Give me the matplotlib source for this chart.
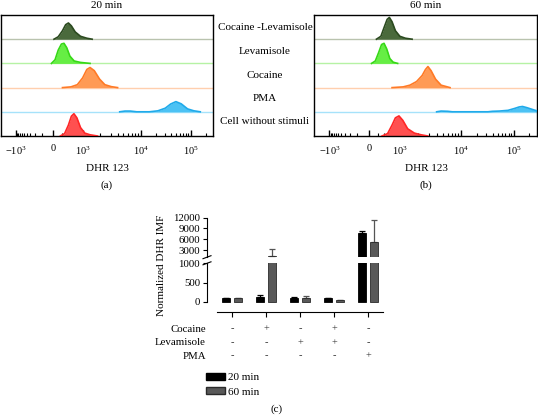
import matplotlib
matplotlib.use("Agg")
import matplotlib.pyplot as plt
import numpy as np
from matplotlib.lines import Line2D
from matplotlib.patches import Patch
from matplotlib.transforms import blended_transform_factory

plt.rcParams["font.family"] = ["Liberation Serif", "DejaVu Serif"]
plt.rcParams["mathtext.fontset"] = "stix"

W, H = 538, 415

# ---- histograms: x is the display channel (0-1000), heights in lane units
lanes = ["Cocaine -Levamisole", "Levamisole", "Cocaine", "PMA", "Cell without stimuli"]
lane_fill = ["#4a6a3c", "#66ee44", "#ff9a55", "#4cc2f4", "#ff5050"]
lane_edge = ["#2b4a1f", "#36d816", "#ff7a26", "#1faaea", "#ff2626"]
lane_base = ["#b9c3ae", "#b6f2a4", "#ffcfae", "#a6e2fa", "#ffb0b0"]

tick_vals = [-1e3, 0, 1e3, 1e4, 1e5]
tick_ch = [69, 246, 386, 660, 895]
tick_lab = [r"$\mathregular{-10^{3}}$", "0", r"$\mathregular{10^{3}}$",
            r"$\mathregular{10^{4}}$", r"$\mathregular{10^{5}}$"]

hist20_x = [
    [250, 270, 290, 305, 318, 332, 350, 375, 405, 430],
    [238, 255, 270, 285, 297, 310, 325, 345, 375, 420],
    [290, 330, 360, 385, 405, 420, 440, 465, 490, 520, 550],
    [560, 585, 610, 640, 700, 740, 775, 800, 825, 850, 880, 910, 940],
    [280, 300, 318, 332, 344, 358, 375, 395, 420, 455],
]
hist20_h = [
    [0, 0.1, 0.35, 0.6, 0.67, 0.55, 0.3, 0.12, 0.04, 0],
    [0, 0.15, 0.55, 0.8, 0.83, 0.65, 0.3, 0.1, 0.04, 0],
    [0, 0.03, 0.12, 0.4, 0.75, 0.83, 0.7, 0.35, 0.12, 0.04, 0],
    [0, 0.03, 0.03, 0, 0, 0.04, 0.15, 0.32, 0.42, 0.33, 0.12, 0.04, 0],
    [0, 0.1, 0.45, 0.82, 0.92, 0.75, 0.35, 0.12, 0.05, 0],
]
hist60_x = [
    [280, 300, 315, 328, 338, 350, 365, 385, 410, 440],
    [258, 275, 290, 303, 314, 326, 340, 355, 375],
    [350, 400, 430, 460, 485, 500, 511, 525, 545, 570, 610],
    [550, 570, 600, 620, 780, 800, 830, 870, 900, 920, 935, 955, 985, 1000],
    [305, 330, 350, 365, 381, 398, 420, 450, 480, 510],
]
hist60_h = [
    [0, 0.12, 0.5, 0.82, 0.9, 0.72, 0.35, 0.12, 0.04, 0],
    [0, 0.1, 0.45, 0.78, 0.83, 0.6, 0.2, 0.05, 0],
    [0, 0.03, 0.1, 0.25, 0.5, 0.75, 0.87, 0.7, 0.35, 0.1, 0],
    [0, 0.03, 0.02, 0, 0, 0.02, 0.03, 0.06, 0.14, 0.2, 0.22, 0.17, 0.08, 0.04],
    [0, 0.1, 0.45, 0.75, 0.83, 0.65, 0.3, 0.12, 0.05, 0],
]

# ---- bar chart (c)
bar20 = [100, 120, 90, 85, 7700]
err20 = [5, 50, 20, 10, 700]
bar60 = [100, 1300, 90, 50, 5100]
err60 = [5, 2000, 70, 5, 6300]
cocaine = ["-", "+", "-", "+", "-"]
levamisole = ["-", "-", "+", "+", "-"]
pma = ["-", "-", "-", "-", "+"]


def box(x0, y0, x1, y1):
    return [x0 / W, 1 - y1 / H, (x1 - x0) / W, (y1 - y0) / H]


def to_ch(v):
    v = np.asarray(v, dtype=float)
    ch = np.interp(np.arcsinh(v / 100), np.arcsinh(np.array(tick_vals) / 100), tick_ch)
    big = v > 1e5
    ch[big] = tick_ch[-1] + 235 * np.log10(v[big] / 1e5)
    return ch


minor_vals = np.concatenate([
    np.arange(-900, 0, 100), np.arange(100, 1000, 100),
    np.arange(2e3, 1e4, 1e3), np.arange(2e4, 1e5, 1e4), [2e5],
])

fig = plt.figure(figsize=(W / 100, H / 100), dpi=100)


def hist_panel(rect, xs, hs, title, tag, cx):
    ax = fig.add_axes(rect)
    for i in range(len(lanes)):
        base = len(lanes) - 1 - i
        x = np.array(xs[i])
        y = base + np.array(hs[i])
        if base > 0:
            ax.axhline(base, color=lane_base[i], lw=1.0, zorder=1)
        ax.fill_between(x, base, y, color=lane_fill[i], lw=0, zorder=2)
        ax.plot(x, y, color=lane_edge[i], lw=1.2, zorder=3)
    ax.set_xlim(0, 1000)
    ax.set_ylim(0, len(lanes))
    ax.set_yticks([])
    ax.set_xticks(tick_ch)
    ax.set_xticklabels(tick_lab, fontsize=7.5)
    ax.set_xticks(to_ch(minor_vals), minor=True)
    ax.tick_params(axis="x", which="major", direction="in", length=4, width=1, pad=6)
    ax.tick_params(axis="x", which="minor", direction="in", length=2.5, width=0.8)
    for s in ax.spines.values():
        s.set_linewidth(1.0)
    fig.text(cx / W, 1 - 5 / H, title, ha="center", va="center", fontsize=8)
    fig.text(cx / W, 1 - 168 / H, "DHR 123", ha="center", va="center", fontsize=8)
    fig.text(cx / W, 1 - 185 / H, tag, ha="center", va="center", fontsize=8)
    return ax


hist_panel(box(1, 15, 213, 136), hist20_x, hist20_h, "20 min", "(a)", 107)
hist_panel(box(314, 15, 537, 136), hist60_x, hist60_h, "60 min", "(b)", 426)

for i, name in enumerate(lanes):
    fig.text(265 / W, 1 - (28 + 23.5 * i) / H, name, ha="center", va="center", fontsize=8)

# ---- broken-axis bar chart
ax_top = fig.add_axes(box(207, 217.7, 383, 257.2))
ax_low = fig.add_axes(box(207, 263.3, 383, 312))
xg = np.arange(len(bar20))
bw = 0.24
off = 0.185
for ax in (ax_top, ax_low):
    ax.bar(xg - off, bar20, bw, color="#000000", edgecolor="#000000", lw=0.6, zorder=2)
    ax.bar(xg + off, bar60, bw, color="#595959", edgecolor="#2a2a2a", lw=0.6, zorder=2)
    ax.errorbar(xg - off, bar20, yerr=[np.zeros(5), err20], fmt="none",
                ecolor="#000000", elinewidth=0.9, capsize=2.5, capthick=0.9, zorder=1)
    ax.errorbar(xg + off, bar60, yerr=[np.zeros(5), err60], fmt="none",
                ecolor="#555555", elinewidth=0.9, capsize=2.5, capthick=0.9, zorder=1)
    ax.set_xlim(-0.735, 4.44)
    ax.spines["top"].set_visible(False)
    ax.spines["right"].set_visible(False)
    ax.tick_params(axis="y", direction="out", length=3, width=0.8, labelsize=7.8, pad=2)
    ax.spines["left"].set_linewidth(0.8)

ax_top.set_ylim(1000, 12000)
ax_top.set_yticks([3000, 6000, 9000, 12000])
ax_top.spines["bottom"].set_visible(False)
ax_top.set_xticks([])
ax_top.spines["left"].set_bounds(1000, 12000)

ax_low.set_ylim(-268, 1000)
ax_low.set_yticks([0, 500, 1000])
ax_low.spines["left"].set_bounds(0, 1000)
ax_low.spines["bottom"].set_bounds(-0.44, 4.44)
ax_low.spines["bottom"].set_linewidth(0.8)
ax_low.set_xticks(xg)
ax_low.set_xticklabels([])
ax_low.tick_params(axis="x", direction="out", length=3.5, width=0.8)

# break marks on the y axis
for yb in (257.2, 263.3):
    fig.add_artist(Line2D([203 / W, 211 / W], [1 - (yb + 1.5) / H, 1 - (yb - 1.5) / H],
                          color="black", lw=0.8, transform=fig.transFigure))

fig.text(162 / W, 1 - 265 / H, "Normalized DHR IMF", rotation=90,
         ha="center", va="center", fontsize=8)

trans = blended_transform_factory(ax_low.transData, fig.transFigure)
for row, (label, signs) in enumerate([("Cocaine", cocaine), ("Levamisole", levamisole),
                                      ("PMA", pma)]):
    yy = 1 - (329 + 13.5 * row) / H
    fig.text(206 / W, yy, label, ha="right", va="center", fontsize=7.8)
    for gx, s in zip(xg, signs):
        ax_low.text(gx, yy, s, transform=trans, ha="center", va="center",
                    fontsize=7.5, color="#333333")

handles = [Patch(facecolor="#000000", edgecolor="#000000", label="20 min"),
           Patch(facecolor="#595959", edgecolor="#2a2a2a", label="60 min")]
fig.legend(handles=handles, loc="upper left", bbox_to_anchor=(204 / W, 1 - 371 / H),
           frameon=False, fontsize=8, handlelength=1.7, handleheight=0.55,
           labelspacing=0.45, handletextpad=0.3, borderaxespad=0, borderpad=0.2)

fig.text(277 / W, 1 - 409 / H, "(c)", ha="center", va="center", fontsize=8)

fig.savefig("out.png", dpi=100)
